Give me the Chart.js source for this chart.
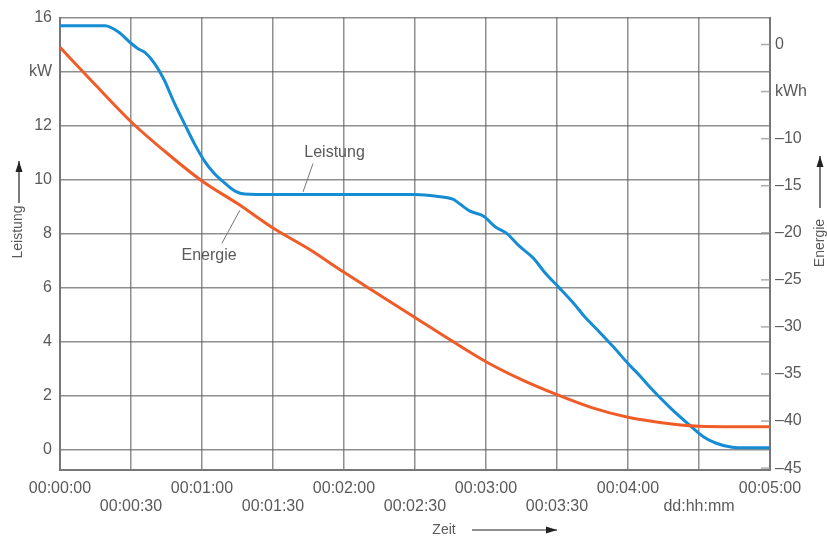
<!DOCTYPE html>
<html>
<head>
<meta charset="utf-8">
<script src="https://cdn.jsdelivr.net/npm/chart.js@4/dist/chart.umd.min.js"></script>
<style>
  html, body { margin: 0; padding: 0; background: #fff; }
  #wrap { width: 827px; height: 539px; }
</style>
</head>
<body>
<div id="wrap"><canvas id="chart"></canvas></div>
<script>
// time in minutes (axis reads dd:hh:mm)
const leistungTime = [0, 10, 19, 25, 30, 33, 36, 40, 44, 48, 53, 57, 61, 65, 70, 74, 78, 90, 120, 150,
  159, 166, 169, 173, 179, 184, 189, 194, 200, 205, 211, 217, 222, 228, 234, 240, 245, 249, 258,
  266, 272, 277, 284, 290, 300];
const leistungKW = [15.7, 15.7, 15.7, 15.45, 15.05, 14.85, 14.7, 14.3, 13.7, 12.9, 12.0, 11.3, 10.7, 10.25,
  9.85, 9.58, 9.47, 9.45, 9.45, 9.45, 9.39, 9.28, 9.1, 8.85, 8.65, 8.25, 8.0, 7.55, 7.1, 6.55, 6.0, 5.43,
  4.9, 4.36, 3.8, 3.2, 2.75, 2.35, 1.55, 0.92, 0.48, 0.26, 0.1, 0.08, 0.08];

const energieTime = [0, 15, 30, 45, 60, 75, 90, 105, 120, 135, 150, 165, 180, 195, 210, 225, 240, 255, 270, 285, 300];
const energieKWh = [-0.3, -4.3, -8.2, -11.5, -14.5, -16.9, -19.5, -21.7, -24.2, -26.6, -29.0, -31.4,
  -33.7, -35.6, -37.2, -38.6, -39.6, -40.2, -40.55, -40.6, -40.6];

const xTickValues = [0, 30, 60, 90, 120, 150, 180, 210, 240, 270, 300];
const xTickLabels = ['00:00:00', '00:00:30', '00:01:00', '00:01:30', '00:02:00', '00:02:30',
  '00:03:00', '00:03:30', '00:04:00', 'dd:hh:mm', '00:05:00'];
const leftTickValues = [0, 2, 4, 6, 8, 10, 12, 14, 16];
const leftTickLabels = ['0', '2', '4', '6', '8', '10', '12', 'kW', '16'];
const rightTickValues = [0, -5, -10, -15, -20, -25, -30, -35, -40, -45];
const rightTickLabels = ['0', 'kWh', '–10', '–15', '–20', '–25', '–30', '–35', '–40', '–45'];

const textColor = '#5a5a5a';
const gridColor = 'rgba(95,95,95,0.7)';
const blue = 'rgb(22,140,212)';
const orange = 'rgb(240,92,40)';

const toPoints = (xs, ys) => xs.map((t, i) => ({ x: t, y: ys[i] }));

// arrows, axis titles, in-plot labels and inward ticks on the right axis
const decorations = {
  id: 'decorations',
  afterDraw(chart) {
    const { ctx, chartArea, scales: { x, y, y2 } } = chart;
    ctx.save();

    ctx.strokeStyle = 'rgba(150,150,150,0.8)';
    ctx.lineWidth = 1.5;
    y2.ticks.forEach(t => {
      const py = y2.getPixelForValue(t.value);
      ctx.beginPath();
      ctx.moveTo(chartArea.right - 9, py);
      ctx.lineTo(chartArea.right, py);
      ctx.stroke();
    });

    // leader lines
    ctx.strokeStyle = '#777';
    ctx.lineWidth = 1;
    ctx.beginPath();
    ctx.moveTo(x.getPixelForValue(106.9), y.getPixelForValue(10.6));
    ctx.lineTo(x.getPixelForValue(102.7), y.getPixelForValue(9.55));
    ctx.moveTo(x.getPixelForValue(68.4), y.getPixelForValue(7.65));
    ctx.lineTo(x.getPixelForValue(76), y.getPixelForValue(8.87));
    ctx.stroke();

    ctx.fillStyle = textColor;
    ctx.font = '16px "Liberation Sans", Arial, sans-serif';
    ctx.textAlign = 'center';
    ctx.textBaseline = 'middle';
    ctx.fillText('Leistung', x.getPixelForValue(116), y.getPixelForValue(11.0));
    ctx.fillText('Energie', x.getPixelForValue(63), y.getPixelForValue(7.2));

    const arrow = (x1, y1, x2, y2p) => {
      ctx.strokeStyle = '#222';
      ctx.fillStyle = '#222';
      ctx.lineWidth = 1.2;
      ctx.beginPath();
      ctx.moveTo(x1, y1);
      ctx.lineTo(x2, y2p);
      ctx.stroke();
      const a = Math.atan2(y2p - y1, x2 - x1);
      ctx.beginPath();
      ctx.moveTo(x2, y2p);
      ctx.lineTo(x2 - 11 * Math.cos(a) + 3.5 * Math.sin(a), y2p - 11 * Math.sin(a) - 3.5 * Math.cos(a));
      ctx.lineTo(x2 - 11 * Math.cos(a) - 3.5 * Math.sin(a), y2p - 11 * Math.sin(a) + 3.5 * Math.cos(a));
      ctx.closePath();
      ctx.fill();
    };

    ctx.font = '14px "Liberation Sans", Arial, sans-serif';
    ctx.fillStyle = textColor;
    // Zeit
    ctx.textAlign = 'center';
    ctx.fillText('Zeit', 444, 530);
    arrow(472, 530, 557, 530);

    // Leistung (left)
    ctx.save();
    ctx.translate(18, 232);
    ctx.rotate(-Math.PI / 2);
    ctx.fillStyle = textColor;
    ctx.fillText('Leistung', 0, 0);
    ctx.restore();
    arrow(19, 203, 19, 161);

    // Energie (right)
    ctx.save();
    ctx.translate(820, 243);
    ctx.rotate(-Math.PI / 2);
    ctx.fillStyle = textColor;
    ctx.fillText('Energie', 0, 0);
    ctx.restore();
    arrow(820, 208, 820, 156);

    ctx.restore();
  }
};

new Chart(document.getElementById('chart'), {
  type: 'line',
  data: {
    datasets: [
      {
        label: 'Energie',
        data: toPoints(energieTime, energieKWh),
        yAxisID: 'y2',
        borderColor: orange,
        borderWidth: 3,
        pointRadius: 0,
        cubicInterpolationMode: 'monotone',
        fill: false,
      },
      {
        label: 'Leistung',
        data: toPoints(leistungTime, leistungKW),
        yAxisID: 'y',
        borderColor: blue,
        borderWidth: 3,
        pointRadius: 0,
        cubicInterpolationMode: 'monotone',
        fill: false,
      },
    ],
  },
  options: {
    responsive: true,
    maintainAspectRatio: false,
    animation: false,
    layout: { padding: { top: 16, left: 0, right: 0, bottom: 0 } },
    plugins: {
      legend: { display: false },
      tooltip: { enabled: false },
    },
    scales: {
      x: {
        type: 'linear',
        min: 0,
        max: 300,
        afterBuildTicks: s => { s.ticks = xTickValues.map(v => ({ value: v })); },
        afterFit: s => { s.height = 69; },
        grid: { color: gridColor, lineWidth: 1.5, drawTicks: false },
        border: { color: '#777', width: 2 },
        ticks: {
          autoSkip: false,
          maxRotation: 0,
          padding: 10,
          color: textColor,
          font: { family: '"Liberation Sans", Arial, sans-serif', size: 16, lineHeight: 1.1 },
          callback: (v, i) => (i % 2 === 0 ? [xTickLabels[i], ''] : ['', xTickLabels[i]]),
        },
      },
      y: {
        position: 'left',
        min: -0.74,
        max: 16,
        afterBuildTicks: s => { s.ticks = leftTickValues.map(v => ({ value: v })); },
        afterFit: s => { s.width = 60; },
        grid: { color: gridColor, lineWidth: 1.5, drawTicks: false },
        border: { color: '#777', width: 2 },
        ticks: {
          padding: 8,
          color: textColor,
          font: { family: '"Liberation Sans", Arial, sans-serif', size: 16 },
          callback: (v, i) => leftTickLabels[i],
        },
      },
      y2: {
        position: 'right',
        min: -45.2,
        max: 2.86,
        afterBuildTicks: s => { s.ticks = rightTickValues.map(v => ({ value: v })); },
        afterFit: s => { s.width = 57; },
        grid: { drawOnChartArea: false, drawTicks: false },
        border: { color: '#777', width: 2 },
        ticks: {
          padding: 5,
          color: textColor,
          font: { family: '"Liberation Sans", Arial, sans-serif', size: 16 },
          callback: (v, i) => rightTickLabels[i],
        },
      },
    },
  },
  plugins: [decorations],
});
</script>
</body>
</html>
